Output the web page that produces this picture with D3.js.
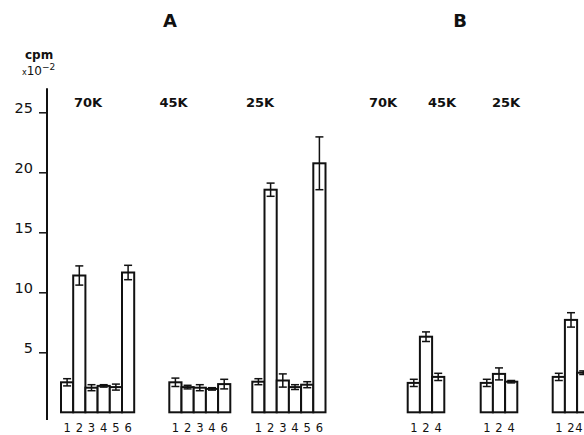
<!DOCTYPE html>
<html><head><meta charset="utf-8">
<script src="https://cdn.jsdelivr.net/npm/d3@7"></script>
<style>body{margin:0;background:#fff}svg{display:block}text{font-family:"DejaVu Sans",sans-serif;fill:#111}</style>
</head><body><svg id="c" width="584" height="435"></svg>
<script>
// ---- data ----
const panels = ["A", "B"];
const groupPanel = ["A", "A", "A", "B", "B", "B"];
const groupNames = ["70K", "45K", "25K", "70K", "45K", "25K"];
const barLabels = [
  ["1","2","3","4","5","6"],
  ["1","2","3","4","6"],
  ["1","2","3","4","5","6"],
  ["1","2","4"],
  ["1","2","4"],
  ["1","2","4"]
];
const values = [
  [2.5, 11.4, 2.05, 2.2, 2.1, 11.65],
  [2.5, 2.1, 2.05, 1.95, 2.35],
  [2.55, 18.55, 2.65, 2.1, 2.3, 20.75],
  [2.45, 6.3, 2.95],
  [2.45, 3.2, 2.55],
  [2.95, 7.7, 3.3]
];
const errors = [
  [0.3, 0.8, 0.25, 0.1, 0.25, 0.6],
  [0.35, 0.15, 0.25, 0.1, 0.4],
  [0.25, 0.55, 0.55, 0.2, 0.25, 2.2],
  [0.3, 0.4, 0.3],
  [0.3, 0.5, 0.1],
  [0.3, 0.6, 0.15]
];
const yTicks = [5, 10, 15, 20, 25];

// ---- layout ----
const groupLeft = [61, 169.3, 252.3, 407.7, 480.7, 552.7];
const barW = 12.2;
const groupLabelX = [88, 173.5, 260, 383, 442, 506];
const panelLabelX = [170, 460];

const svg = d3.select("#c");
const y = d3.scaleLinear().domain([0, 25]).range([412.3, 112.3]);

// y axis
const ax = svg.append("g").attr("transform", "translate(47,0)")
  .call(d3.axisLeft(y).tickValues(yTicks).tickSize(8).tickPadding(6));
ax.select(".domain").remove();
ax.selectAll(".tick line").attr("stroke", "#111").attr("stroke-width", 1.5);
ax.selectAll(".tick text").attr("dy", "0.02em").attr("y", 0).attr("x", -14)
  .style("font-size", "14.5px").style("font-family", "DejaVu Sans");
svg.append("line").attr("x1", 47).attr("x2", 47)
  .attr("y1", y(27)).attr("y2", y(-0.65)).attr("stroke", "#111").attr("stroke-width", 2);

// axis title
svg.append("text").attr("x", 25).attr("y", 59).style("font-size", "12px").style("font-weight", "bold").text("cpm");
const t2 = svg.append("text").attr("x", 22).attr("y", 75).style("font-size", "12px");
t2.append("tspan").style("font-size", "8px").text("x");
t2.append("tspan").text("10");
t2.append("tspan").attr("dy", -5).style("font-size", "9px").text("−2");

// panel labels
svg.selectAll(".panel").data(panels).join("text")
  .attr("x", (d, i) => panelLabelX[i]).attr("y", 27).attr("text-anchor", "middle")
  .style("font-size", "18px").style("font-weight", "bold").text(d => d);

// groups
groupNames.forEach((name, gi) => {
  const n = barLabels[gi].length;
  const x = d3.scaleBand().domain(barLabels[gi]).range([groupLeft[gi], groupLeft[gi] + n * barW]).padding(0);
  const g = svg.append("g");
  g.append("text").attr("x", groupLabelX[gi]).attr("y", 107).attr("text-anchor", "middle")
    .style("font-size", "13px").style("font-weight", "bold").text(name);
  const data = barLabels[gi].map((l, i) => ({l, v: values[gi][i], e: errors[gi][i]}));
  g.selectAll("rect").data(data).join("rect")
    .attr("x", d => x(d.l)).attr("y", d => y(d.v))
    .attr("width", x.bandwidth()).attr("height", d => y(0) - y(d.v))
    .attr("fill", "#fff").attr("stroke", "#111").attr("stroke-width", 2);
  const eb = g.selectAll(".eb").data(data).join("g");
  eb.append("line").attr("x1", d => x(d.l) + x.bandwidth() / 2).attr("x2", d => x(d.l) + x.bandwidth() / 2)
    .attr("y1", d => y(d.v + d.e)).attr("y2", d => y(d.v - d.e)).attr("stroke", "#111").attr("stroke-width", 1.5);
  ["+", "-"].forEach(s => {
    eb.append("line").attr("x1", d => x(d.l) + x.bandwidth() / 2 - 4).attr("x2", d => x(d.l) + x.bandwidth() / 2 + 4)
      .attr("y1", d => y(s === "+" ? d.v + d.e : d.v - d.e)).attr("y2", d => y(s === "+" ? d.v + d.e : d.v - d.e))
      .attr("stroke", "#111").attr("stroke-width", 1.5);
  });
  g.selectAll(".bl").data(data).join("text")
    .attr("x", d => Math.min(x(d.l) + x.bandwidth() / 2, 579)).attr("y", 432).attr("text-anchor", "middle")
    .style("font-size", "11.5px").text(d => d.l);
});
</script></body></html>
